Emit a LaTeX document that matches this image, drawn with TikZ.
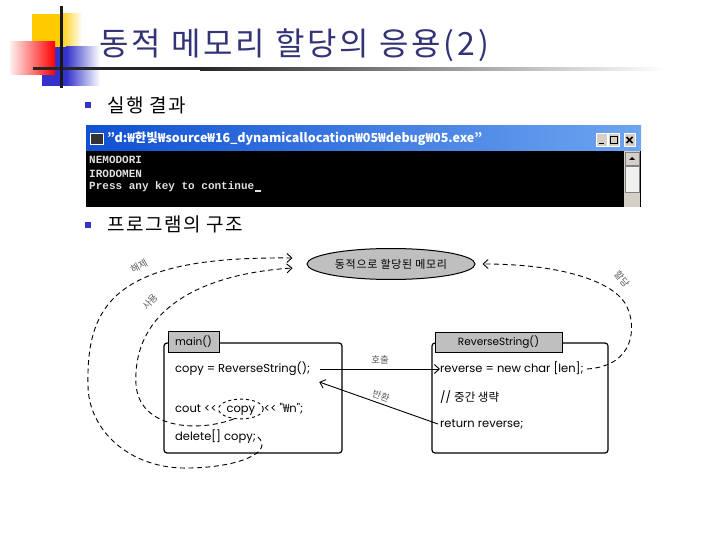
\documentclass[tikz,border=0pt]{standalone}
\usepackage{fontspec}
\setmainfont{Noto Sans CJK KR}
\newfontfamily\consolefont{Liberation Mono}
\newfontfamily\codefont{Poppins}
\usepackage{xcolor}
\usetikzlibrary{positioning,arrows.meta,shapes.geometric}

\definecolor{titleblue}{RGB}{51,51,119}
\definecolor{bulletblue}{RGB}{51,51,204}
\definecolor{decoyellow}{RGB}{255,204,0}
\definecolor{decoblue}{RGB}{51,51,204}
\definecolor{barblue}{RGB}{16,80,210}
\definecolor{barlight}{RGB}{110,165,240}
\definecolor{btngray}{RGB}{212,208,200}
\definecolor{lblgray}{RGB}{90,90,90}

\begin{document}
\begin{tikzpicture}[x=1pt, y=1pt,
  bullet/.style={fill=bulletblue, minimum size=6pt, inner sep=0pt},
  item/.style={anchor=west, inner sep=0pt,
               font=\fontsize{19}{22}\selectfont\addfontfeatures{LetterSpace=8}},
  contxt/.style={anchor=west, inner sep=0pt, text=black!12,
                 font=\consolefont\bfseries\fontsize{11}{13}\selectfont},
  btn/.style={fill=btngray, draw=white, minimum width=11pt, minimum height=13pt, inner sep=0pt},
  code/.style={anchor=west, inner sep=0pt, text height=8.5pt, text depth=2.5pt,
               font=\codefont\fontsize{11.5}{13}\selectfont},
  frame/.style={draw, line width=1.2pt, rounded corners=3pt},
  tab/.style={draw, line width=1pt, fill=black!25, inner sep=0pt,
              font=\codefont\fontsize{10.5}{12}\selectfont},
  memory/.style={ellipse, draw, line width=1pt, fill=black!25, minimum width=168pt,
                 minimum height=31pt, inner sep=0pt,
                 font=\fontsize{11}{12}\selectfont\addfontfeatures{LetterSpace=6}},
  ring/.style={ellipse, draw, dashed, line width=0.9pt, inner sep=1.5pt},
  lbl/.style={text=lblgray, inner sep=1pt, font=\fontsize{9.5}{11}\selectfont},
  arr/.style={-{Straight Barb[length=5pt,width=9pt]}, line width=0.9pt},
  darr/.style={arr, dash pattern=on 5pt off 3.5pt}]
\useasboundingbox (0,0) rectangle (720,-540);

\fill[decoyellow] (32,-14) rectangle (60,-47);
\shade[left color=decoyellow, right color=white] (60,-14) rectangle (82,-47);
\fill[decoblue] (42,-47) rectangle (66,-86);
\shade[left color=decoblue, right color=white] (66,-47) rectangle (100,-86);
\shade[left color=red!6, right color=red] (10,-42) rectangle (55,-75);
\fill[black!85] (33,-67.5) rectangle (200,-70.5);
\shade[left color=black!85, right color=white] (200,-67.5) rectangle (665,-70.5);
\fill[black!90] (59.5,-6) rectangle (62.5,-88);

\node[anchor=west, inner sep=0pt, text=titleblue,
      font=\fontsize{32}{38}\selectfont\addfontfeatures{LetterSpace=9}]
  (title) at (99,-45) {동적 메모리 할당의 응용(2)};

\node[bullet] (b1) at (88,-105) {};
\node[item] (result) at (107,-105) {실행 결과};
\node[bullet] (b2) at (88,-225) {};
\node[item] (struct) at (107,-224) {프로그램의 구조};

\fill[black] (86,-126) rectangle (641,-207);
\shade[left color=barblue, right color=barlight] (86,-126) rectangle (641,-151);
\fill[black!80] (90,-133) rectangle (103,-144);
\draw[white, line width=0.6pt] (90,-133) rectangle (103,-144);
\node[anchor=west, inner sep=0pt, text=white, font=\bfseries\fontsize{12.5}{14}\selectfont]
  (contitle) at (107,-138.5) {"d:₩한빛₩source₩16\_dynamicallocation₩05₩debug₩05.exe"};
\node[btn] (minbtn) at (601.5,-140) {};
\node[btn] (maxbtn) at (613.5,-140) {};
\node[btn] (closebtn) at (629.5,-140) {};
\fill[black] ([xshift=-3pt,yshift=-3pt]minbtn.center) rectangle ([xshift=2pt,yshift=-4.5pt]minbtn.center);
\draw[black, line width=0.7pt] ([xshift=-3.5pt,yshift=-3.5pt]maxbtn.center) rectangle ([xshift=3.5pt,yshift=3.5pt]maxbtn.center);
\draw[black, line width=1.6pt] ([xshift=-3pt,yshift=3pt]closebtn.center) -- ([xshift=3pt,yshift=-3pt]closebtn.center)
  ([xshift=-3pt,yshift=-3pt]closebtn.center) -- ([xshift=3pt,yshift=3pt]closebtn.center);
\fill[btngray] (624,-151) rectangle (640,-207);
\node[btn, draw=black!50, minimum width=14pt] (upbtn) at (632,-158.5) {};
\fill[black] ([xshift=-3pt,yshift=-1.5pt]upbtn.center) -- ([xshift=3pt,yshift=-1.5pt]upbtn.center) -- ([yshift=1.5pt]upbtn.center) -- cycle;
\draw[black!50, fill=black!6] (625,-166) rectangle (639,-192);

\node[contxt] (line1) at (89,-160) {NEMODORI};
\node[contxt] (line2) at (89,-173.5) {IRODOMEN};
\node[contxt] (line3) at (89,-187) {Press any key to continue};
\fill[black!12] ([xshift=1pt]line3.south east) rectangle ([xshift=7pt,yshift=2pt]line3.south east);

\node[memory] (mem) at (391,-264) {동적으로 할당된 메모리};

\draw[frame] (164,-343) rectangle (342,-453);
\node[tab, minimum width=51pt, minimum height=21pt] (maintab) at (193.5,-341.5) {main()};
\node[code] (copyln) at (175,-369) {copy = ReverseString();};
\node[code] (cout1) at (175,-409) {cout {<}{<}};
\node[code, ring, right=1pt of cout1] (copyw) {copy};
\node[code, right=0pt of copyw] (cout2) {{<}{<} "{\rmfamily ₩}n";};
\node[code] (delln) at (175,-437) {delete[] copy;};

\draw[frame] (432,-343) rectangle (608,-453);
\node[tab, minimum width=127pt, minimum height=20pt] (rstab) at (498.5,-342) {ReverseString()};
\node[code] (newln) at (440,-369) {reverse = new char [len];};
\node[code] (skipln) at (440,-398) {// {\rmfamily 중간 생략}};
\node[code] (retln) at (440,-424) {return reverse;};

\draw[arr] ([xshift=10pt]copyln.east) -- (copyln.east -| newln.west)
  node[midway, above=3pt, lbl] {호출};
\draw[arr] ([xshift=-2pt]retln.west) -- ([xshift=9pt,yshift=-13pt]copyln.east)
  node[midway, above=2pt, sloped, lbl] {반환};

\draw[darr, shorten >=7pt] ([xshift=3pt]newln.east) .. controls (636,-366) and (636,-325) .. (627,-307)
  .. controls (618,-285) and (570,-264) .. (mem.east);
\node[lbl, rotate=-50] (alloc) at (622,-279) {할당};

\draw[darr] (copyw.235) .. controls (200,-432) and (140,-430) .. (136,-385)
  .. controls (132,-310) and (200,-274) .. ([xshift=-14pt,yshift=-4pt]mem.west);
\node[lbl, rotate=50] (use) at (150,-302) {사용};

\draw[darr] ([xshift=2pt]delln.east) .. controls (274,-452) and (240,-467) .. (190,-468)
  .. controls (130,-470) and (88,-430) .. (88,-385)
  .. controls (86,-300) and (120,-256) .. ([xshift=-14pt,yshift=6pt]mem.west);
\node[lbl, rotate=30] (free) at (139,-266) {해제};
\end{tikzpicture}
\end{document}
